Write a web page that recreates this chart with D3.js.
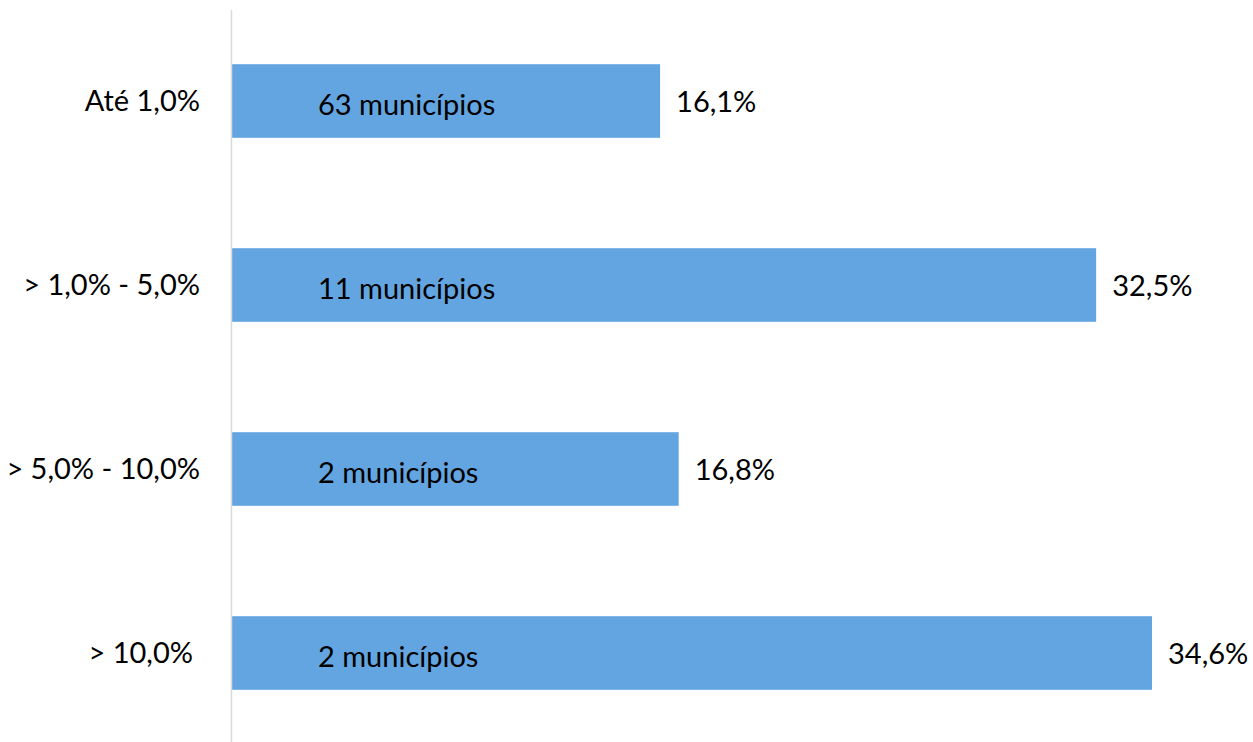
<!DOCTYPE html>
<html>
<head>
<meta charset="utf-8">
<script src="https://cdn.jsdelivr.net/npm/d3@7"></script>
<style>
  body { margin: 0; background: #fff; }
  text { font-family: Lato, "Open Sans", sans-serif; fill: #000; }
</style>
</head>
<body>
<script>
// faixas, percentuais e rótulos internos
var categories = ['Até 1,0%', '> 1,0% - 5,0%', '> 5,0% - 10,0%', '> 10,0%'];
var values = [16.1, 32.5, 16.8, 34.6];
var municipios = ['63 municípios', '11 municípios', '2 municípios', '2 municípios'];

var width = 1253, height = 742;

var svg = d3.select('body')
    .append('svg')
    .attr('width', width)
    .attr('height', height);

var x = d3.scaleLinear()
    .domain([0, 34.6])
    .range([232, 1152]);

var y = d3.scaleBand()
    .domain(categories)
    .range([9, 745])
    .paddingInner(0.6)
    .paddingOuter(0.3);

var data = categories.map(function (c, i) {
    return { cat: c, value: values[i], label: municipios[i] };
});

svg.append('g')
    .selectAll('rect')
    .data(data)
    .enter()
    .append('rect')
    .attr('x', x(0))
    .attr('y', function (d) { return y(d.cat); })
    .attr('width', function (d) { return x(d.value) - x(0); })
    .attr('height', y.bandwidth())
    .attr('fill', '#63a5e0');

// eixo vertical
svg.append('line')
    .attr('x1', 231.5).attr('x2', 231.5)
    .attr('y1', 10).attr('y2', height)
    .attr('stroke', '#d9d9d9')
    .attr('stroke-width', 1.5);

// rótulos das categorias
svg.append('g')
    .selectAll('text')
    .data(data)
    .enter()
    .append('text')
    .attr('x', function (d, i) { return i === 3 ? 193 : 200; })
    .attr('y', function (d) { return y(d.cat) + y.bandwidth() / 2 + 10; })
    .attr('text-anchor', 'end')
    .attr('font-size', 29)
    .text(function (d) { return d.cat; });

// número de municípios dentro da barra
svg.append('g')
    .selectAll('text')
    .data(data)
    .enter()
    .append('text')
    .attr('x', 318)
    .attr('y', function (d) { return y(d.cat) + y.bandwidth() / 2 + 14; })
    .attr('font-size', 29)
    .text(function (d) { return d.label; });

// percentuais
svg.append('g')
    .selectAll('text')
    .data(data)
    .enter()
    .append('text')
    .attr('x', function (d) { return x(d.value) + 16; })
    .attr('y', function (d) { return y(d.cat) + y.bandwidth() / 2 + 11; })
    .attr('font-size', 29)
    .text(function (d) { return d.value.toFixed(1).replace('.', ',') + '%'; });
</script>
</body>
</html>
